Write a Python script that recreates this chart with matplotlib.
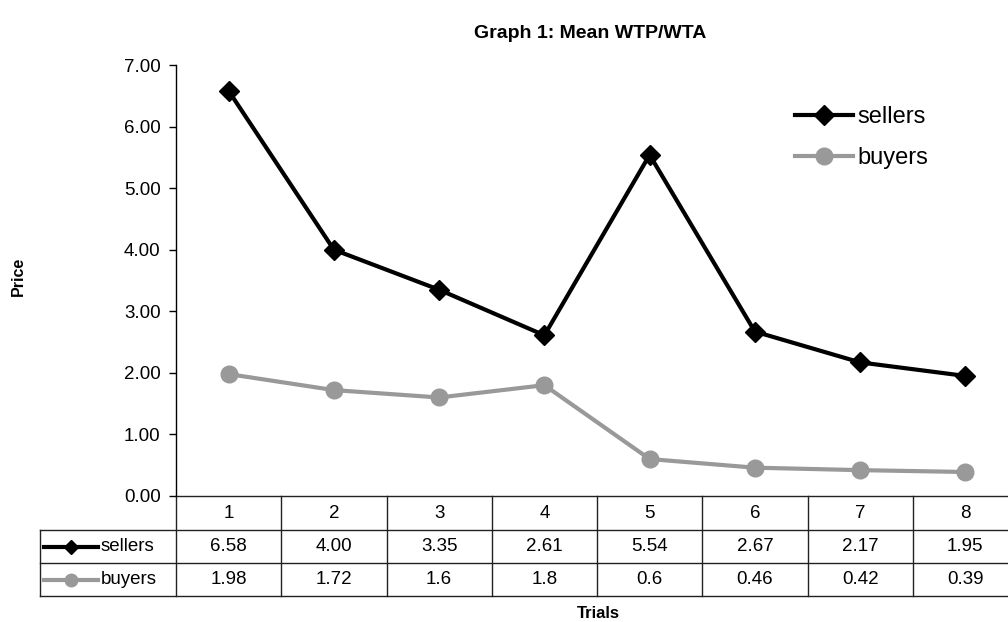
import matplotlib
matplotlib.use("Agg")
import matplotlib.pyplot as plt
from matplotlib.lines import Line2D
from matplotlib.transforms import blended_transform_factory

plt.rcParams['font.family'] = ['Liberation Sans', 'DejaVu Sans']

trials = [1, 2, 3, 4, 5, 6, 7, 8]
sellers = [6.58, 4.00, 3.35, 2.61, 5.54, 2.67, 2.17, 1.95]
buyers = [1.98, 1.72, 1.6, 1.8, 0.6, 0.46, 0.42, 0.39]

seller_style = dict(color='black', lw=3, marker='D', ms=10)
buyer_style = dict(color='#999999', lw=3, marker='o', ms=12)

fig = plt.figure(figsize=(10.08, 6.22), dpi=100)
# axes runs a bit past the right edge, like the original export
ax = fig.add_axes([176 / 1008, 1 - 496 / 622, 842 / 1008, 431 / 622])

ax.plot(trials, sellers, label='sellers', **seller_style)
ax.plot(trials, buyers, label='buyers', **buyer_style)

ax.set_xlim(0.5, len(trials) + 0.5)
ax.set_ylim(0, 7)
ax.set_yticks(range(0, 8))
ax.set_yticklabels([f"{v:.2f}" for v in range(0, 8)], fontsize=13.5)
ax.tick_params(axis='y', direction='out', length=5, width=1, pad=6)
ax.set_xticks([])
for s in ['top', 'right', 'bottom']:
    ax.spines[s].set_visible(False)
ax.spines['left'].set_linewidth(1)

fig.text(18 / 1008, 1 - 276 / 622, 'Price', rotation=90, ha='center', va='center',
         fontsize=11.5, fontweight='bold')
fig.text(598 / 1008, 1 - 613 / 622, 'Trials', ha='center', va='center',
         fontsize=12, fontweight='bold')
fig.text(590 / 1008, 1 - 33 / 622, 'Graph 1: Mean WTP/WTA', ha='center', va='center',
         fontsize=14, fontweight='bold')

leg = ax.legend(loc='center left', bbox_to_anchor=((795 - 176) / 842, (496 - 137.5) / 431),
                frameon=False, fontsize=17, handlelength=2.45, handletextpad=0.2,
                labelspacing=0.82, borderaxespad=0, borderpad=0)

# data table under the axes: x in data units, y in axes fraction
tr = blended_transform_factory(ax.transData, ax.transAxes)
col_w = 105.25  # px per trial
def px_to_x(px):
    return 0.5 + (px - 176) / col_w

rows_y = [0, -34 / 431, -67 / 431, -100 / 431]
x_left = px_to_x(40)
x0, x1 = 0.5, len(trials) + 0.5
lc = '#222222'
kw = dict(transform=tr, clip_on=False, color=lc, lw=1)

ax.add_line(Line2D([x0, x1], [rows_y[0]] * 2, **kw))
for y in rows_y[1:]:
    ax.add_line(Line2D([x_left, x1], [y, y], **kw))
for i in range(len(trials) + 1):
    ax.add_line(Line2D([x0 + i] * 2, [rows_y[0], rows_y[3]], **kw))
ax.add_line(Line2D([x_left] * 2, [rows_y[1], rows_y[3]], **kw))

def mid(a, b):
    return (a + b) / 2

fs = 13.5
for t in trials:
    ax.text(t, mid(rows_y[0], rows_y[1]), str(t), transform=tr,
            ha='center', va='center', fontsize=fs)
for t, v in zip(trials, sellers):
    ax.text(t, mid(rows_y[1], rows_y[2]), f"{v:.2f}", transform=tr,
            ha='center', va='center', fontsize=fs)
for t, v in zip(trials, buyers):
    ax.text(t, mid(rows_y[2], rows_y[3]), f"{v:g}", transform=tr,
            ha='center', va='center', fontsize=fs)

for (name, style), (ya, yb) in zip(
        [('sellers', seller_style), ('buyers', buyer_style)],
        [(rows_y[1], rows_y[2]), (rows_y[2], rows_y[3])]):
    ym = mid(ya, yb)
    a, b = px_to_x(44), px_to_x(98)
    ax.add_line(Line2D([a, b], [ym, ym], color=style['color'], lw=3, transform=tr, clip_on=False))
    ax.add_line(Line2D([mid(a, b)], [ym], color=style['color'], marker=style['marker'],
                       ms=style['ms'] - 3, lw=0, transform=tr, clip_on=False))
    ax.text(px_to_x(101), ym, name, transform=tr, ha='left', va='center', fontsize=fs)

fig.savefig('out.png', dpi=100)
